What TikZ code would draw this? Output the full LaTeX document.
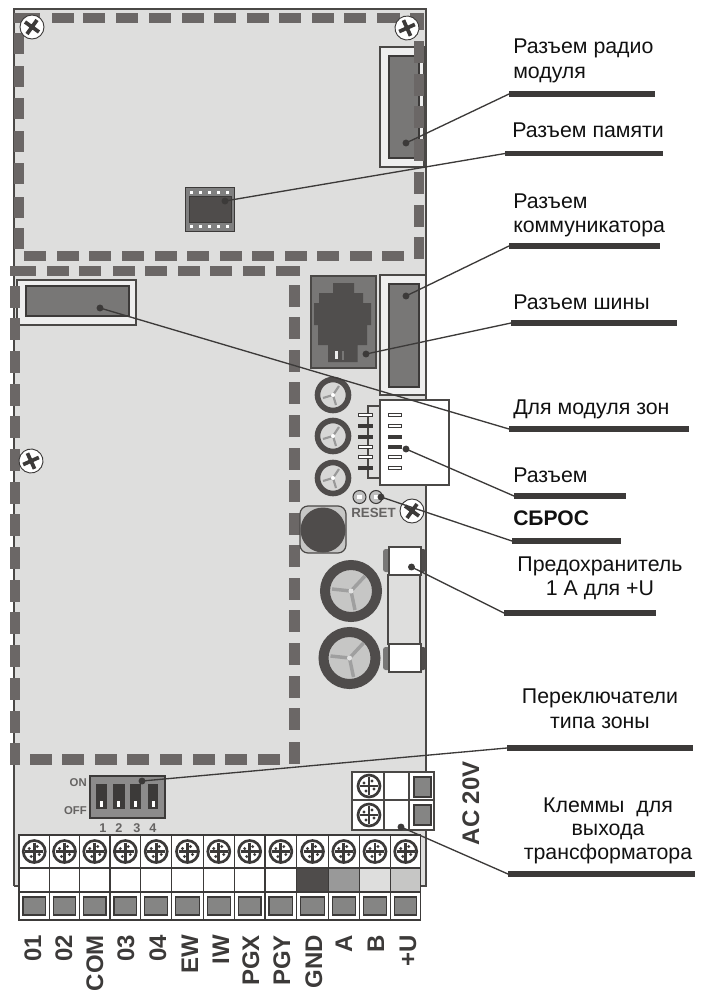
\documentclass[tikz,border=0pt]{standalone}
\usepackage{fontspec}
\setmainfont{Liberation Sans}
\definecolor{board}{HTML}{DEDEDD}
\definecolor{dashc}{HTML}{6B6766}
\definecolor{conn}{HTML}{787776}
\definecolor{edge}{HTML}{4A4846}
\definecolor{ink}{HTML}{3C3A39}
\definecolor{ringc}{HTML}{4F4C4B}
\definecolor{capc}{HTML}{C6C6C5}
\definecolor{labelc}{HTML}{111111}
\tikzset{
  x=0.75pt,y=-0.75pt,
  dashblk/.style={fill=dashc,draw=none},
  outerbox/.style={fill=board,draw=edge,line width=1.2pt},
  innerbox/.style={fill=conn,draw=ink,line width=1.3pt},
  whitebox/.style={fill=white,draw=edge,line width=0.9pt},
  greysq/.style={fill=conn!90!white,draw=ink,line width=0.8pt},
  dotmark/.style={circle,fill=ink,draw=none,inner sep=0pt,minimum size=5.2pt},
  leader/.style={draw=ink,line width=1pt},
  rulebar/.style={draw=ink,line width=4.1pt},
  lbl/.style={text=labelc,font=\fontsize{16pt}{18pt}\selectfont,inner sep=0pt,anchor=base west},
  lblc/.style={text=labelc,font=\fontsize{16pt}{18pt}\selectfont,inner sep=0pt,anchor=base},
  termlbl/.style={text=ink,font=\bfseries\fontsize{18pt}{20pt}\selectfont,inner sep=0pt,anchor=base east,rotate=90},
  silk/.style={text=edge!85!white,font=\bfseries\fontsize{8.5pt}{10pt}\selectfont,inner sep=0pt},
  screwA/.pic={
    \fill[white,draw=ink,line width=0.7pt] (0,0) circle (12);
    \draw[ink,line width=2.8pt] (-7,-5) -- (7,5) (-5,7) -- (5,-7);
  },
  screwB/.pic={
    \fill[white,draw=ink,line width=2pt] (0,0) circle (11);
    \draw[ink,line width=2.1pt] (-9,0) -- (9,0) (0,-9) -- (0,9);
    \fill[ink] (-5,-3) circle (1.6) (5,3) circle (1.6) (3,-5) circle (1.6) (-3,5) circle (1.6);
  },
  trim/.pic={
    \fill[capc!70!white,draw=ringc,line width=4.2pt] (0,0) circle (15.5);
    \draw[gray!80,line width=1.6pt] (0,0) -- (-10,3) (0,0) -- (6,-9) (0,0) -- (3,10);
    \fill[white] (0,0) circle (2);
  },
  bigcap/.pic={
    \fill[capc,draw=ringc,line width=7.5pt] (0,0) circle (26);
    \draw[gray!75,line width=2.6pt] (0,0) -- (-19,-2) (0,0) -- (14,-15) (0,0) -- (4,19);
    \fill[capc!50!white] (0,0) circle (2.5);
  }
}
\begin{document}
\begin{tikzpicture}
\useasboundingbox (0,0) rectangle (705,990);
% board
\fill[board] (14,9) rectangle (426,886);
\draw[edge,line width=1.3pt] (14,886) -- (14,9) -- (426,9) -- (426,886) -- (420,886);
\draw[edge,line width=1.3pt] (14,886) -- (19,886);
% radio connector
\draw[outerbox,fill=white!50!board] (380,47) rectangle (424,167);
\draw[innerbox] (389,56) rectangle (419,158);
% memory chip
\draw[fill=gray,draw=ink,line width=0.7pt] (185,187) rectangle (234,231);
\foreach \px in {190,199,208,217,226}{
  \fill[white] (\px,191) rectangle +(3,3);
  \fill[white] (\px,225) rectangle +(3,3);
}
\draw[fill=ringc,draw=ink,line width=0.6pt] (189,196) rectangle (231,222);
% upper dashed frame
\foreach \dx/\dw in {14/26,52/22,83/22,116/22,149/22,182/22,214/22,247/22,279/22,312/22,344/22,377/23,410/14}
  \fill[dashblk] (\dx,13) rectangle +(\dw,9.5);
\fill[dashblk] (410,13) rectangle (424,30);
\foreach \dy in {33,66,98,131,163,197,228}
  \fill[dashblk] (14,\dy) rectangle +(10,21);
\foreach \dx in {24,57,89,122,155,187,220,252,285,317,350,382}
  \fill[dashblk] (\dx,250.5) rectangle +(22,10);
\foreach \dy in {41,74,106,139,172,205,237}
  \fill[dashblk] (414,\dy) rectangle +(10,22);
% screws on the upper frame
\pic at (32,27) {screwA};
\pic[rotate=60] at (407,28) {screwA};
% lower dashed frame
\foreach \dx/\dw in {10/26,47/22,79/22,113/22,145/22,178/22,210/22,243/22,276/24}
  \fill[dashblk] (\dx,265.5) rectangle +(\dw,10.5);
% zone module connector
\draw[outerbox,fill=white!50!board] (17,280) rectangle (136,325);
\draw[innerbox] (26,286) rectangle (129,316);
\foreach \dy in {286,318,351,384,416,449,482,514,547,580,612,645,678,711,743}
  \fill[dashblk] (10,\dy) rectangle +(10,21.5);
\foreach \dy in {285,317,350,382,415,448,480,513,545,578,610,643,676,708,742}
  \fill[dashblk] (289,\dy) rectangle +(11,21.5);
\foreach \dx in {30,62,95,127,160,193,225,258}
  \fill[dashblk] (\dx,754) rectangle +(22,11);
\pic[rotate=60] at (31,461) {screwA};
% telephone jack
\fill[conn,draw=edge,line width=0.8pt] (311,276) rectangle (376,368);
\fill[ink!90!white] (333,283) -- (354,283) -- (354,293) -- (363,293) -- (363,303) -- (371,303) -- (371,325) -- (367,325) -- (367,345) -- (357.5,345) -- (357.5,362) -- (328,362) -- (328,345) -- (318,345) -- (318,325) -- (314,325) -- (314,303) -- (319,303) -- (319,293) -- (333,293) -- cycle;
\fill[white!85!gray] (335,351) rectangle (338,359);
\draw[conn,line width=0.8pt] (343,351) -- (343,360);
% communicator connector
\draw[outerbox,fill=white!50!board] (380,275) rectangle (426,395);
\draw[innerbox] (389,284) rectangle (419,387);
% zone connector
\draw[fill=board,draw=edge,line width=1pt] (368,406) rectangle (382,478);
\draw[fill=white,draw=edge,line width=1.5pt] (380,400) rectangle (449,485);
\foreach \py/\pc in {415/white,426/ink,437/ink,447/white,457/white,468/ink}
  \draw[fill=\pc,draw=ink,line width=0.7pt] (358,\py-1.5) rectangle (372,\py+1.5);
\foreach \py/\pc in {415/white,426/white,437/ink,447/ink,457/white,468/white}
  \draw[fill=\pc,draw=ink,line width=0.7pt] (388,\py-1.5) rectangle (401,\py+1.5);
% trimmers
\pic at (333,395) {trim};
\pic at (333,436) {trim};
\pic at (333,478) {trim};
% reset
\draw[fill=gray!50,draw=ink,line width=0.8pt] (359.5,497) circle (6.5);
\draw[fill=gray!50,draw=ink,line width=0.8pt] (376,497) circle (6.5);
\fill[white] (357,495) rectangle (362,499);
\fill[white] (373.5,495) rectangle (378.5,499);
\node[silk,font=\bfseries\fontsize{10pt}{12pt}\selectfont] (resetlbl) at (373.5,512.5) {RESET};
\pic at (412,511) {screwA};
% round button
\draw[fill=capc,draw=edge,line width=0.9pt,rounded corners=6pt] (300,506) rectangle (346,553);
\fill[ringc] (323,530) circle (22.5);
% fuse
\fill[conn,rounded corners=2pt] (383,549) rectangle (392,572);
\fill[ringc,rounded corners=2pt] (418,549) rectangle (426,572);
\fill[conn,rounded corners=2pt] (383,647) rectangle (392,670);
\fill[ringc,rounded corners=2pt] (418,647) rectangle (426,670);
\draw[fill=board,draw=edge,line width=0.9pt] (388,575) rectangle (420,644);
\draw[whitebox] (389,547) rectangle (421,575);
\draw[whitebox] (389,644) rectangle (421,672);
% large capacitors
\pic at (351,591) {bigcap};
\pic at (349.5,658) {bigcap};
% DIP switch
\draw[fill=conn!85!white,draw=ink,line width=0.9pt] (90,776) rectangle (165,818);
\foreach \sx/\sw in {96/11,113/12,130/11,148/10}{
  \fill[ink] (\sx,784) rectangle +(\sw,25);
  \fill[white] (\sx+3.5,801) rectangle +(3.5,6);
}
\node[silk,anchor=east] (onlbl) at (87,783) {ON};
\node[silk,anchor=east] (offlbl) at (87,811) {OFF};
\node[silk,font=\bfseries\fontsize{9.5pt}{11pt}\selectfont] (n1) at (103,828) {1};
\node[silk,font=\bfseries\fontsize{9.5pt}{11pt}\selectfont] (n2) at (119,828) {2};
\node[silk,font=\bfseries\fontsize{9.5pt}{11pt}\selectfont] (n3) at (137,828) {3};
\node[silk,font=\bfseries\fontsize{9.5pt}{11pt}\selectfont] (n4) at (153,828) {4};
% AC terminal
\draw[fill=white,draw=edge,line width=0.9pt] (352,772) rectangle (434,830);
\draw[edge,line width=0.9pt] (352,800) -- (434,800) (384,772) -- (384,830) (409,772) -- (409,830);
\draw[greysq] (414,777) rectangle (431,797);
\draw[greysq] (414,805) rectangle (431,825);
\pic at (369,786) {screwB};
\pic at (369,815) {screwB};
\node[termlbl] (aclbl) at (479,761) {AC 20V};
% terminal block
\fill[white] (19,835) rectangle (420.7,920);
\fill[ringc] (296.7,868) rectangle (328.3,892);
\fill[gray!80] (328.3,868) rectangle (359.3,892);
\fill[board] (359.3,868) rectangle (390.7,892);
\fill[capc] (390.7,868) rectangle (420.7,892);
\foreach \tx/\tw in {19/30.5,49.5/30,79.5/30.5,110/30.7,140.7/31,171.7/31.6,203.3/31,234.3/30.7,265/31.7,296.7/31.6,328.3/31,359.3/31.4,390.7/30}{
  \pic at (\tx+\tw/2,851.5) {screwB};
  \draw[greysq] (\tx+4,897) rectangle +(\tw-8,18);
  \draw[ink,line width=0.9pt] (\tx,835) rectangle +(\tw,85);
}
\draw[ink,line width=0.9pt] (19,868) -- (420.7,868) (19,892) -- (420.7,892);
% terminal labels
\foreach \tname/\tx/\tid in {01/41/a,02/72/b,COM/103/c,03/134/d,04/166/e,EW/198/f,IW/229/g,PGX/259/h,PGY/290/i,GND/322/j,A/352/k,B/384/l,+U/416/m}
  \node[termlbl] (t\tid) at (\tx,935) {\tname};
% label rules and text
\coordinate (u1s) at (509,94);   \coordinate (u1e) at (655,94);
\coordinate (u2s) at (505,153.5);\coordinate (u2e) at (663,153.5);
\coordinate (u3s) at (509,246);  \coordinate (u3e) at (660,246);
\coordinate (u4s) at (511,323);  \coordinate (u4e) at (677,323);
\coordinate (u5s) at (509,429);  \coordinate (u5e) at (689,429);
\coordinate (u6s) at (514,496);  \coordinate (u6e) at (626,496);
\coordinate (u7s) at (512,541);  \coordinate (u7e) at (621,541);
\coordinate (u8s) at (504,613);  \coordinate (u8e) at (656,613);
\coordinate (u9s) at (507,748);  \coordinate (u9e) at (693,748);
\coordinate (u10s) at (508,874); \coordinate (u10e) at (695,874);
\node[dotmark] (d1) at (406,143) {};
\node[dotmark] (d2) at (225,201) {};
\node[dotmark] (d3) at (406,296) {};
\node[dotmark] (d4) at (366,354) {};
\node[dotmark] (d5) at (100,308) {};
\node[dotmark] (d6) at (406,449) {};
\node[dotmark] (d7) at (381,497) {};
\node[dotmark] (d8) at (411.5,567) {};
\node[dotmark] (d9) at (142,781) {};
\node[dotmark] (d10) at (401,827) {};
\foreach \i in {1,...,10}{
  \draw[leader] (d\i.center) -- (u\i s);
  \draw[rulebar] (u\i s) -- (u\i e);
}
\node[lbl] (l1a) at (513,53) {Разъем радио};
\node[lbl] (l1b) at (513,78) {модуля};
\node[lbl] (l2) at (512,137) {Разъем памяти};
\node[lbl] (l3a) at (513,208) {Разъем};
\node[lbl] (l3b) at (513,232) {коммуникатора};
\node[lbl] (l4) at (513,309) {Разъем шины};
\node[lbl] (l5) at (513,414) {Для модуля зон};
\node[lbl] (l6) at (513,482) {Разъем};
\node[lbl,font=\bfseries\fontsize{15.8pt}{18pt}\selectfont] (l7) at (513,525) {СБРОС};
\node[lblc] (l8a) at (600,571) {Предохранитель};
\node[lblc] (l8b) at (600,595) {1 А для +U};
\node[lblc] (l9a) at (600,703) {Переключатели};
\node[lblc] (l9b) at (600,728) {типа зоны};
\node[lblc] (l10a) at (608,812) {Клеммы\ \ для};
\node[lblc] (l10b) at (608,835) {выхода};
\node[lblc] (l10c) at (608,859) {трансформатора};
\end{tikzpicture}
\end{document}
